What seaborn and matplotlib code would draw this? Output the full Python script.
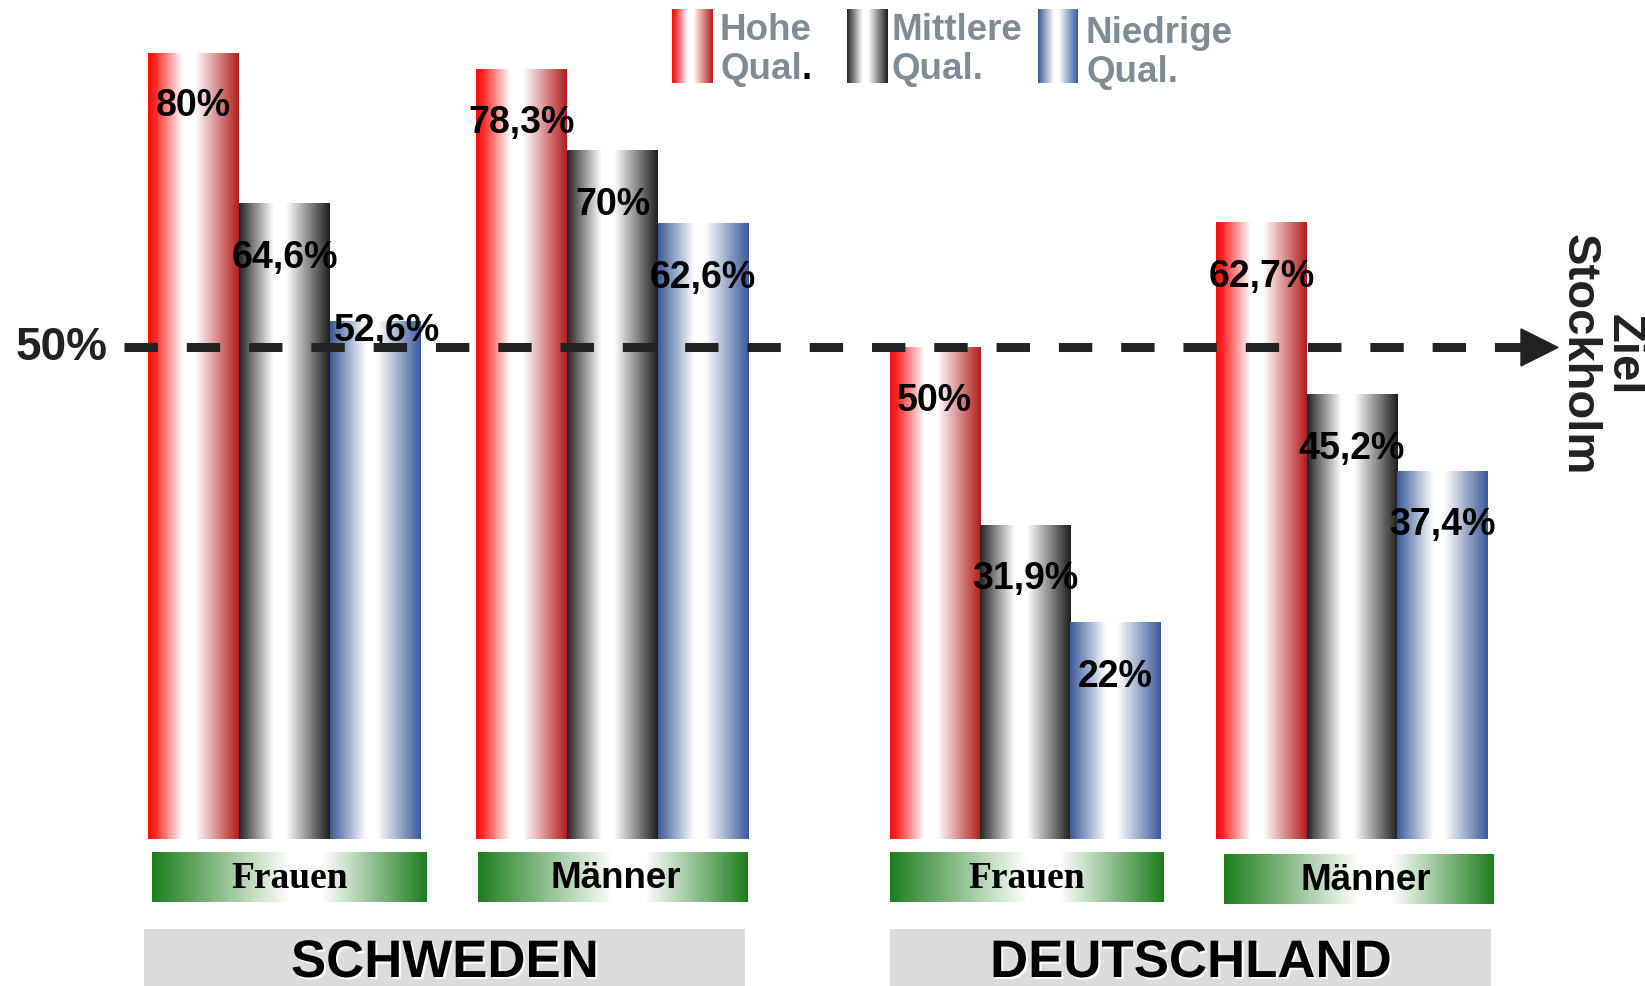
import numpy as np
import pandas as pd
import seaborn as sns
import matplotlib
matplotlib.use("Agg")
import matplotlib.pyplot as plt
from matplotlib.colors import LinearSegmentedColormap
from matplotlib.lines import Line2D
from matplotlib.patches import Polygon, Rectangle
import matplotlib.patheffects as pe

# ---------------- data ----------------
countries = ["SCHWEDEN", "DEUTSCHLAND"]
genders = ["Frauen", "Männer"]
qualifications = ["Hohe Qual.", "Mittlere Qual.", "Niedrige Qual."]
schweden_frauen = [80.0, 64.6, 52.6]
schweden_maenner = [78.3, 70.0, 62.6]
deutschland_frauen = [50.0, 31.9, 22.0]
deutschland_maenner = [62.7, 45.2, 37.4]
target_value = 50
target_label = "50%"
target_text = ["Ziel", "Stockholm"]
legend_lines = [("Hohe", "Qual"), ("Mittlere", "Qual."), ("Niedrige", "Qual.")]

rows = []
for country, series in zip(countries, [[schweden_frauen, schweden_maenner],
                                       [deutschland_frauen, deutschland_maenner]]):
    for g, vals in zip(genders, series):
        for q, v in zip(qualifications, vals):
            rows.append({"Land": country, "Geschlecht": g, "Qualifikation": q, "Anteil": v})
df = pd.DataFrame(rows)

# ---------------- style ----------------
W, H = 1645, 987
sns.set_theme(style="white")
plt.rcParams["font.family"] = ["Liberation Sans", "DejaVu Sans"]

cmaps = [
    LinearSegmentedColormap.from_list("red", [(0, "#FF0A0A"), (0.08, "#FF2A2A"), (0.38, "#FFFFFF"),
                                             (0.52, "#FFFFFF"), (1, "#B41C1C")]),
    LinearSegmentedColormap.from_list("blk", [(0, "#242424"), (0.38, "#FFFFFF"), (0.52, "#FFFFFF"),
                                             (1, "#1E1E1E")]),
    LinearSegmentedColormap.from_list("blu", [(0, "#3A5A98"), (0.4, "#FFFFFF"), (0.52, "#FFFFFF"),
                                             (1, "#3A5A98")]),
]
green_cmap = LinearSegmentedColormap.from_list("grn", [(0, "#1E7E1E"), (0.5, "#FFFFFF"),
                                                        (0.62, "#FFFFFF"), (1, "#1E7E1E")])
base_colors = ["#FF8080", "#909090", "#8FA0C8"]
grad = np.linspace(0, 1, 256).reshape(1, -1)
TXT = "#222222"
LEG = "#7F8C94"

fig = plt.figure(figsize=(W / 100, H / 100), dpi=100)


def px_rect(x0, y0, x1, y1):
    return [x0 / W, 1 - y1 / H, (x1 - x0) / W, (y1 - y0) / H]


axes_px = [(120.5, 53.5, 776.5, 840), (861.75, 53.5, 1515.25, 840)]
YMAX = 80
LABEL_OFF = 53
axes = []
for country, (x0, y0, x1, y1) in zip(countries, axes_px):
    ax = fig.add_axes(px_rect(x0, y0, x1, y1))
    sub = df[df["Land"] == country]
    sns.barplot(data=sub, x="Geschlecht", y="Anteil", hue="Qualifikation",
                order=genders, hue_order=qualifications, palette=base_colors,
                width=0.83, saturation=1, errorbar=None, legend=False,
                linewidth=0, edgecolor="none", ax=ax)
    ppu = (y1 - y0) / YMAX  # pixels per data unit
    line_px = target_value * ppu
    for i, cont in enumerate(ax.containers):
        for bar in cont:
            bx, bw, bh = bar.get_x(), bar.get_width(), bar.get_height()
            ax.imshow(grad, extent=[bx, bx + bw, 0, bh], aspect="auto", cmap=cmaps[i],
                      origin="lower", zorder=bar.get_zorder() + 0.1, interpolation="bilinear")
            lab = f"{bh:g}%".replace(".", ",")
            center = bh * ppu - LABEL_OFF
            dx, dy = 0, -LABEL_OFF
            if abs(center - line_px) < 32:
                dx, dy = 12, -(bh * ppu - (line_px + 17.5))
            ax.annotate(lab, (bx + bw / 2, bh), xytext=(dx, dy), textcoords="offset pixels",
                        ha="center", va="center", fontsize=27, fontweight="bold",
                        color="black", zorder=10, annotation_clip=False)
    ax.set_xlim(-0.5, 1.5)
    ax.set_ylim(0, YMAX)
    ax.axis("off")
    axes.append(ax)

# ---------------- target line ----------------
ax1 = axes[0]
y_disp = ax1.transData.transform((0, target_value))[1]
yf = y_disp / fig.bbox.height
fig.add_artist(Line2D([124 / W, 1522 / W], [yf, yf], transform=fig.transFigure, color=TXT,
                      lw=6.5, dashes=(3.7, 3.2), dash_capstyle="butt", zorder=5))
ah = 18.5 / H
fig.add_artist(Polygon([[1521 / W, yf - ah], [1558 / W, yf], [1521 / W, yf + ah]], closed=True,
                       transform=fig.transFigure, color=TXT, zorder=5))
fig.text(62 / W, yf, target_label, ha="center", va="center", fontsize=33, fontweight="bold",
         color=TXT)
fig.text(1624 / W, 1 - 355 / H, target_text[0], rotation=270, ha="center", va="center",
         fontsize=34, fontweight="bold", color=TXT)
fig.text(1579 / W, 1 - 355 / H, target_text[1], rotation=270, ha="center", va="center",
         fontsize=34, fontweight="bold", color=TXT)

# ---------------- legend ----------------
renderer = fig.canvas.get_renderer()
swatches = [(672, 713), (847, 888), (1038, 1078)]
text_x = [720, 891, 1086]
text_dy = [0, 0, 3]
for i, ((sx0, sx1), tx, ddy, (l1, l2)) in enumerate(zip(swatches, text_x, text_dy, legend_lines)):
    sax = fig.add_axes(px_rect(sx0, 10, sx1, 84))
    sax.imshow(grad, aspect="auto", cmap=cmaps[i], interpolation="bilinear")
    sax.axis("off")
    fig.text(tx / W, 1 - (40 + ddy) / H, l1, ha="left", va="baseline", fontsize=26.5,
             fontweight="bold", color=LEG)
    t2 = fig.text(tx / W, 1 - (79 + ddy) / H, l2, ha="left", va="baseline", fontsize=26.5,
                  fontweight="bold", color=LEG)
    if not l2.endswith("."):
        bb = t2.get_window_extent(renderer)
        fig.text(bb.x1 / W, 1 - (79 + ddy) / H, ".", ha="left", va="baseline", fontsize=26.5,
                 fontweight="bold", color="black")

# ---------------- gender boxes ----------------
gender_boxes = [(152, 853, 427, 903), (478, 853, 748, 903), (890, 853, 1164, 903),
                (1224, 855, 1494, 905)]
gender_fonts = {"Frauen": ["Liberation Serif", "DejaVu Serif"],
                "Männer": ["Liberation Sans", "DejaVu Sans"]}
gender_sizes = {"Frauen": 27, "Männer": 26.5}
for k, (bx0, by0, bx1, by1) in enumerate(gender_boxes):
    g = genders[k % 2]
    gax = fig.add_axes(px_rect(bx0, by0, bx1, by1))
    gax.imshow(grad, aspect="auto", cmap=green_cmap, interpolation="bilinear",
               extent=[0, 1, 0, 1])
    gax.set_xlim(0, 1)
    gax.set_ylim(0, 1)
    gax.axis("off")
    tx = 0.525 if k == 3 else (0.51 if k == 1 else 0.5)
    gax.text(tx, 0.48, g, ha="center", va="center", fontsize=gender_sizes[g],
             fontweight="bold", family=gender_fonts[g], color="black")

# ---------------- country boxes ----------------
country_boxes = [(144, 930, 745, 987), (890, 930, 1491, 987)]
for c, (cx0, cy0, cx1, cy1) in zip(countries, country_boxes):
    fig.add_artist(Rectangle((cx0 / W, 1 - cy1 / H), (cx1 - cx0) / W, (cy1 - cy0) / H,
                             transform=fig.transFigure, facecolor="#DCDCDC",
                             edgecolor="none", zorder=1))
    fig.text((cx0 + cx1) / 2 / W, 1 - 964 / H, c, ha="center", va="center", fontsize=38,
             fontweight="bold", color="black", zorder=2,
             path_effects=[pe.SimplePatchShadow(offset=(1.5, -1.5), shadow_rgbFace="white",
                                                alpha=1.0), pe.Normal()])

fig.savefig("out.png", dpi=100, facecolor="white")
